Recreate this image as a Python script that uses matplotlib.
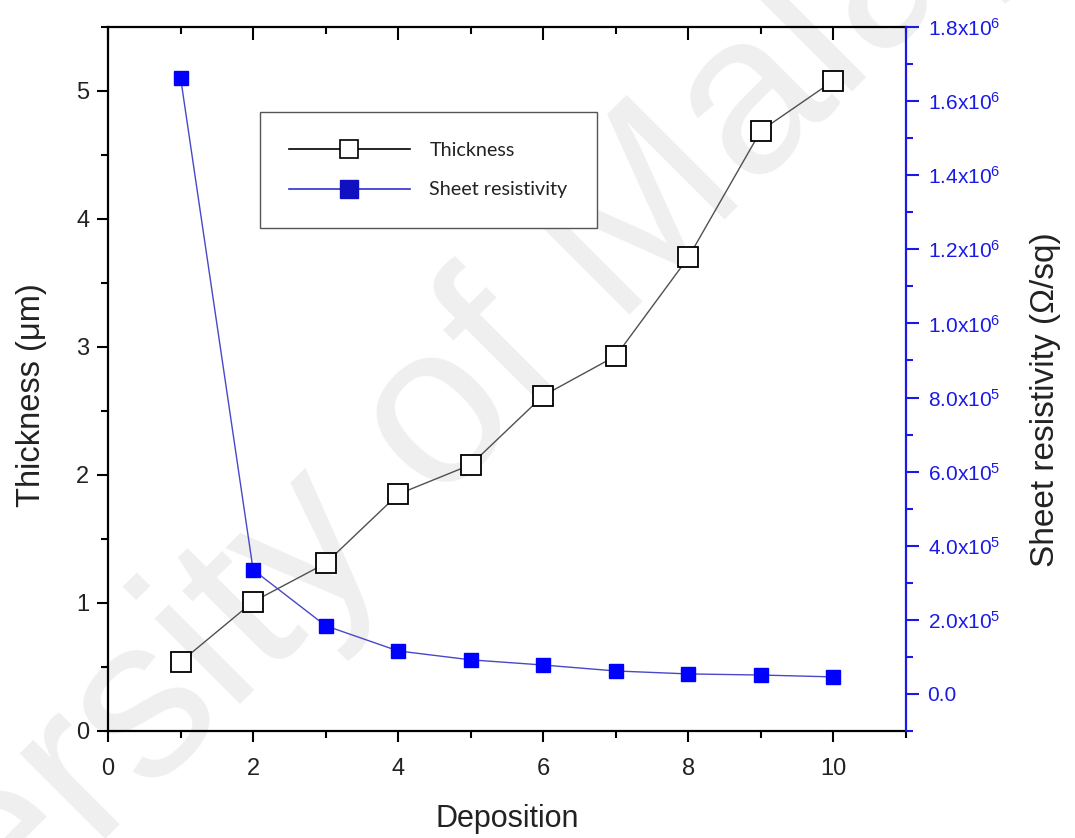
import matplotlib
matplotlib.use("Agg")
import matplotlib.pyplot as plt
from matplotlib.ticker import MultipleLocator, FuncFormatter

# deposition cycles vs. film thickness and sheet resistivity
deposition = [1, 2, 3, 4, 5, 6, 7, 8, 9, 10]
thickness_um = [0.54, 1.01, 1.31, 1.85, 2.08, 2.62, 2.93, 3.70, 4.69, 5.08]
sheet_res = [1.663e6, 3.35e5, 1.84e5, 1.16e5, 9.2e4, 7.8e4, 6.2e4, 5.4e4, 5.1e4, 4.6e4]

plt.rcParams["font.family"] = ["Liberation Sans", "DejaVu Sans"]
plt.rcParams["mathtext.fontset"] = "custom"
plt.rcParams["mathtext.rm"] = "Liberation Sans"
plt.rcParams["mathtext.it"] = "Liberation Sans"

BLUE = "#1a1ae6"
TXT = "#222222"

fig = plt.figure(figsize=(10.75, 8.38), dpi=100)
fig.text(0.342, 0.413, "University of Malaya", rotation=45, fontsize=165,
         color="#efefef", ha="center", va="center", zorder=-5)

ax = fig.add_axes([0.1005, 0.1277, 0.7423, 0.8401])
ax.patch.set_alpha(0)
ax2 = ax.twinx()

ax.plot(deposition, thickness_um, color="#505050", lw=1.0, marker="s",
        ms=15, mfc="white", mec="black", mew=1.3, zorder=3)
ax2.plot(deposition, sheet_res, color="#4848c8", lw=1.0, marker="s",
         ms=10, mfc="#0000ff", mec="#0000ff", zorder=3)

ax.set_xlim(0, 11)
ax.set_ylim(0, 5.5)
ax2.set_ylim(-1e5, 1.8e6)

ax.xaxis.set_major_locator(MultipleLocator(2))
ax.xaxis.set_minor_locator(MultipleLocator(1))
ax.yaxis.set_major_locator(MultipleLocator(1))
ax.yaxis.set_minor_locator(MultipleLocator(0.5))
ax2.yaxis.set_major_locator(MultipleLocator(2e5))
ax2.yaxis.set_minor_locator(MultipleLocator(1e5))


def sci_fmt(v, pos):
    if abs(v) < 1:
        return "0.0"
    exp = int(f"{v:e}".split("e")[1])
    mant = v / 10 ** exp
    return r"$\mathregular{%.1fx10^{%d}}$" % (mant, exp)


ax2.yaxis.set_major_formatter(FuncFormatter(sci_fmt))

for sp in ("left", "bottom", "top"):
    ax.spines[sp].set_linewidth(1.6)
    ax.spines[sp].set_color("black")
ax.spines["right"].set_visible(False)
for sp in ("left", "bottom", "top"):
    ax2.spines[sp].set_visible(False)
ax2.spines["right"].set_color(BLUE)
ax2.spines["right"].set_linewidth(1.6)

ax.tick_params(axis="x", which="major", pad=11.5)
ax.tick_params(axis="y", which="major", pad=5.5)
ax.tick_params(axis="both", which="major", direction="out", length=8, width=1.5,
               labelsize=17, labelcolor=TXT, top=False, right=False)
ax.tick_params(axis="both", which="minor", direction="out", length=5, width=1.5,
               top=False, right=False)
ax2.tick_params(axis="y", which="major", direction="out", length=9, width=1.5,
                colors=BLUE, labelsize=15, pad=6.5)
ax2.tick_params(axis="y", which="minor", direction="out", length=5, width=1.5,
                colors=BLUE)

# inward ticks along the top edge
top = ax.secondary_xaxis("top")
top.xaxis.set_major_locator(MultipleLocator(2))
top.xaxis.set_minor_locator(MultipleLocator(1))
top.tick_params(which="major", direction="in", length=9, width=1.5, labeltop=False)
top.tick_params(which="minor", direction="in", length=5, width=1.5)
top.spines["top"].set_visible(False)

ax.set_xlabel("Deposition", fontsize=22, color=TXT, labelpad=17)
ax.set_ylabel("Thickness (μm)", fontsize=23.5, color=TXT, labelpad=21)
ax2.set_ylabel("Sheet resistivity (Ω/sq)", fontsize=24, color=TXT, labelpad=22)
ax.yaxis.label.set_y(0.477)
ax2.yaxis.label.set_y(0.47)

h1 = plt.Line2D([], [], color="black", lw=1.2, marker="s", ms=13,
                mfc="white", mec="black", mew=1.2)
h2 = plt.Line2D([], [], color="#3030d0", lw=1.2, marker="s", ms=13,
                mfc="#1010c0", mec="#1010c0")
leg = ax.legend([h1, h2], ["Thickness", "Sheet resistivity"],
                loc="upper left", bbox_to_anchor=(0.19, 0.879), borderaxespad=0,
                fancybox=False, edgecolor="#555555", framealpha=1,
                prop={"family": ["Lato", "DejaVu Sans"], "size": 14.2},
                handlelength=6.1, handletextpad=1.0, borderpad=1.5,
                labelspacing=1.15)
leg.get_frame().set_linewidth(1.0)
for t in leg.get_texts():
    t.set_color(TXT)
leg.set_zorder(10)

fig.savefig("out.png", dpi=100)
